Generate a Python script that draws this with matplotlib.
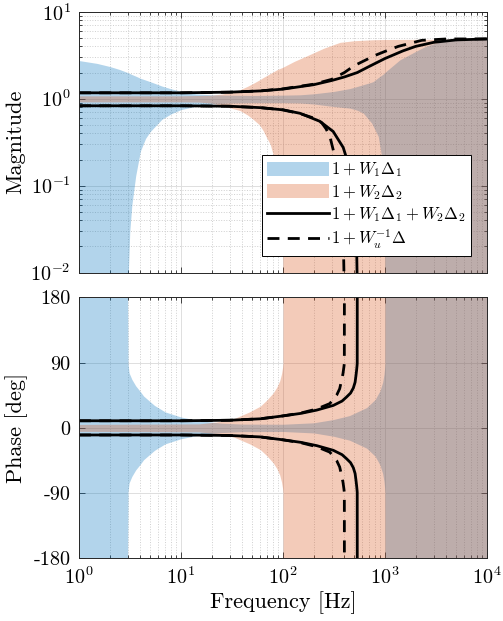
import numpy as np
import matplotlib
matplotlib.use('Agg')
import matplotlib.pyplot as plt
from matplotlib.patches import Patch
from matplotlib.lines import Line2D

plt.rcParams['font.family'] = 'serif'
plt.rcParams['font.serif'] = ['cmr10', 'DejaVu Serif']
plt.rcParams['mathtext.fontset'] = 'cm'
plt.rcParams['axes.unicode_minus'] = False
plt.rcParams['axes.formatter.use_mathtext'] = True

# --- values ---
# region 1 + W1*Delta1 (magnitude)
f_w1 = [1, 1.5, 2, 2.5, 3.0, 3.05, 3.15, 3.3, 3.6, 4.0, 4.5, 5.0, 6.5, 8, 10, 14, 20, 28, 50, 100,
        147, 200, 311, 454, 530, 612, 740, 770, 860, 927, 977, 995, 1000, 1005, 1400, 2000, 2460,
        3000, 3870, 5500, 10000]
w1_up = [2.75, 2.55, 2.35, 2.17, 2.0, 1.98, 1.95, 1.9, 1.82, 1.72, 1.64, 1.57, 1.4, 1.3, 1.22, 1.14,
         1.11, 1.1, 1.09, 1.1, 1.11, 1.14, 1.21, 1.31, 1.38, 1.45, 1.55, 1.58, 1.75, 1.86, 1.95, 1.99,
         2.0, 2.02, 2.8, 3.5, 3.96, 4.3, 4.64, 4.8, 4.85]
w1_lo = [1e-3, 1e-3, 1e-3, 1e-3, 1e-3, 0.01, 0.03, 0.06, 0.13, 0.25, 0.35, 0.42, 0.58, 0.67, 0.75,
         0.82, 0.87, 0.89, 0.9, 0.9, 0.893, 0.87, 0.815, 0.78, 0.74, 0.685, 0.526, 0.48, 0.369, 0.217,
         0.117, 0.04, 0.01, 1e-3, 1e-3, 1e-3, 1e-3, 1e-3, 1e-3, 1e-3, 1e-3]

# region 1 + W2*Delta2 (magnitude)
f_w2 = [1, 10, 15, 20, 25, 30, 38, 45, 51, 59, 64, 69, 75, 80, 83.5, 87, 93.5, 99, 100, 101, 130,
        170, 250, 362, 500, 765, 1000, 10000]
w2_up = [1.08, 1.08, 1.09, 1.1, 1.13, 1.18, 1.27, 1.39, 1.5, 1.65, 1.75, 1.84, 1.95, 2.03, 2.09,
         2.15, 2.23, 2.29, 2.3, 2.32, 2.7, 3.1, 3.8, 4.45, 4.65, 4.77, 4.8, 4.85]
w2_lo = [0.92, 0.92, 0.915, 0.89, 0.84, 0.79, 0.73, 0.65, 0.58, 0.5, 0.43, 0.36, 0.3, 0.23, 0.18,
         0.14, 0.09, 0.04, 0.01, 1e-3, 1e-3, 1e-3, 1e-3, 1e-3, 1e-3, 1e-3, 1e-3, 1e-3]

# phase half-widths of the two regions [deg]
f_w1_ph = [1, 3.0, 3.03, 3.1, 3.3, 3.6, 4.0, 4.3, 5.0, 5.5, 7, 10, 15, 25, 40, 100, 200, 312, 450,
           661, 800, 893, 950, 980, 995, 1000, 1003, 10000]
w1_ph = [180, 180, 88, 76, 67, 58, 50, 44, 36, 31, 22, 15, 10, 6.5, 5.2, 5, 7, 11.5, 17, 28, 39,
         51, 63, 74, 84, 89, 180, 180]
f_w2_ph = [1, 15, 22, 33, 47, 60, 69, 80, 87, 93, 97, 99.3, 100, 100.3, 10000]
w2_ph = [4.8, 5.5, 8, 12.7, 22, 30, 38, 48, 56, 65, 75, 84, 89, 180, 180]

# 1 + W1*Delta1 + W2*Delta2 (solid) and 1 + Wu^-1*Delta (dashed)
f_s_up = [1, 10, 30, 60, 100, 200, 300, 400, 535, 700, 1000, 1500, 2000, 3000, 5000, 10000]
s_up = [1.17, 1.17, 1.19, 1.23, 1.29, 1.45, 1.62, 1.78, 2.0, 2.35, 2.9, 3.55, 4.0, 4.45, 4.75, 4.87]
f_s_lo = [1, 10, 30, 60, 100, 147, 230, 311, 390, 450, 490, 515, 530, 540]
s_lo = [0.83, 0.83, 0.82, 0.79, 0.745, 0.68, 0.55, 0.42, 0.275, 0.16, 0.085, 0.04, 0.015, 0.004]
f_d_up = [1, 10, 30, 60, 100, 200, 300, 400, 500, 800, 1000, 1350, 2300, 4000, 10000]
d_up = [1.17, 1.17, 1.19, 1.23, 1.3, 1.47, 1.67, 2.0, 2.4, 3.15, 3.5, 4.0, 4.7, 4.87, 4.88]
f_d_lo = [1, 10, 30, 60, 100, 150, 200, 240, 265, 290, 316, 340, 360, 380, 392, 398, 402]
d_lo = [0.83, 0.83, 0.82, 0.79, 0.745, 0.67, 0.6, 0.53, 0.45, 0.36, 0.24, 0.15, 0.09, 0.045, 0.02,
        0.008, 0.003]

f_s_ph = [1, 10, 30, 60, 100, 150, 214, 312, 380, 420, 460, 490, 510, 520, 528, 533, 535, 535.5]
s_ph = [9.8, 9.8, 10.5, 12.5, 16.5, 20, 24.5, 31, 37, 42.5, 48, 55, 63, 72, 80, 86, 89, 180]
f_d_ph = [1, 10, 30, 60, 100, 150, 214, 288, 336, 360, 375, 388, 396, 400, 400.5]
d_ph = [9.8, 9.8, 10.5, 12.5, 16.5, 20.5, 26, 33.5, 45, 54, 65, 75, 84, 89, 180]

legend_labels = [r'$1 + W_1 \Delta_1$', r'$1 + W_2 \Delta_2$',
                 r'$1 + W_1 \Delta_1 + W_2 \Delta_2$', r'$1 + W_u^{-1} \Delta$']

c1 = (0.0, 0.4470, 0.7410)
c2 = (0.8500, 0.3250, 0.0980)
lw = 2.0
dash = (4.3, 3.0)

fig = plt.figure(figsize=(5.03, 6.21), dpi=100)
ax1 = fig.add_axes([0.157, 0.561, 0.811, 0.420])
ax2 = fig.add_axes([0.157, 0.101, 0.811, 0.420])


def style(ax):
    ax.set_xscale('log')
    ax.set_xlim(1, 1e4)
    ax.set_axisbelow(True)
    ax.grid(True, which='major', color='#dedede', linewidth=0.7, linestyle='-')
    ax.grid(True, which='minor', axis='x', color='#cfcfcf', linewidth=0.7, linestyle=':')
    ax.tick_params(which='both', direction='in', top=True, right=True, colors='0.15',
                   labelcolor='black', labelsize=14.5, width=0.6)
    ax.tick_params(which='major', length=4.5, pad=6)
    ax.tick_params(which='minor', length=2.5)
    for sp in ax.spines.values():
        sp.set_color('0.15')
        sp.set_linewidth(0.7)


# magnitude
style(ax1)
ax1.set_yscale('log')
ax1.set_ylim(1e-2, 1e1)
ax1.grid(True, which='minor', axis='y', color='#cfcfcf', linewidth=0.7, linestyle=':')
ax1.fill_between(f_w1, w1_lo, w1_up, color=c1, alpha=0.3, linewidth=0)
ax1.fill_between(f_w2, w2_lo, w2_up, color=c2, alpha=0.3, linewidth=0)
ax1.plot(f_s_up, s_up, color='k', lw=lw)
ax1.plot(f_s_lo, s_lo, color='k', lw=lw)
ax1.plot(f_d_up, d_up, color='k', lw=lw, dashes=dash)
ax1.plot(f_d_lo, d_lo, color='k', lw=lw, dashes=dash)
ax1.set_yticks([1e-2, 1e-1, 1e0, 1e1])
ax1.set_yticklabels([r'$10^{-2}$', r'$10^{-1}$', r'$10^{0}$', r'$10^{1}$'])
ax1.set_xticklabels([])
ax1.tick_params(axis='x', which='both', labelbottom=False)
ax1.set_ylabel('Magnitude', fontsize=16, labelpad=4)

handles = [Patch(facecolor=c1, alpha=0.3, edgecolor='none'),
           Patch(facecolor=c2, alpha=0.3, edgecolor='none'),
           Line2D([], [], color='k', lw=lw),
           Line2D([], [], color='k', lw=lw, dashes=dash)]
leg = ax1.legend(handles, legend_labels, loc='lower right', bbox_to_anchor=(0.960, 0.064),
                 borderaxespad=0, fontsize=12, fancybox=False, framealpha=1, edgecolor='k',
                 handlelength=3.7, handleheight=0.9, handletextpad=0.15, labelspacing=0.22,
                 borderpad=0.3)
leg.get_frame().set_linewidth(0.7)

# phase
style(ax2)
ax2.set_ylim(-180, 180)
ax2.fill_between(f_w1_ph, -np.array(w1_ph), w1_ph, color=c1, alpha=0.3, linewidth=0)
ax2.fill_between(f_w2_ph, -np.array(w2_ph), w2_ph, color=c2, alpha=0.3, linewidth=0)
ax2.plot(f_s_ph, s_ph, color='k', lw=lw)
ax2.plot(f_s_ph, -np.array(s_ph), color='k', lw=lw)
ax2.plot(f_d_ph, d_ph, color='k', lw=lw, dashes=dash)
ax2.plot(f_d_ph, -np.array(d_ph), color='k', lw=lw, dashes=dash)
ax2.set_yticks([-180, -90, 0, 90, 180])
ax2.set_yticklabels(['-180', '-90', '0', '90', '180'])
ax2.set_xticks([1, 10, 100, 1000, 10000])
ax2.set_xticklabels([r'$10^{0}$', r'$10^{1}$', r'$10^{2}$', r'$10^{3}$', r'$10^{4}$'])
ax2.set_ylabel('Phase [deg]', fontsize=16, labelpad=4)
ax2.set_xlabel('Frequency [Hz]', fontsize=16, labelpad=2)

fig.savefig('out.png', dpi=100)
